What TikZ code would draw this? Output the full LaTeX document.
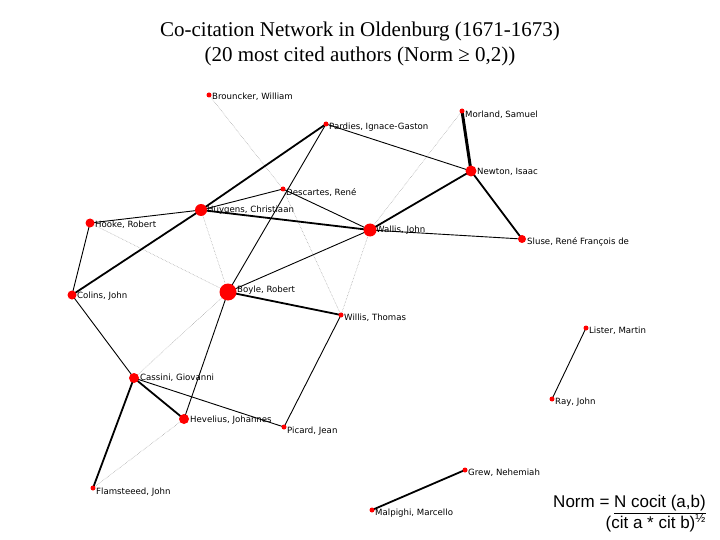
\documentclass[tikz,border=0pt]{standalone}
\usepackage{fontspec}
\setmainfont{Liberation Serif}
\newfontfamily\lab{DejaVu Sans}
\newfontfamily\ari{Liberation Sans}
\begin{document}
\begin{tikzpicture}[x=1pt,y=-1pt,
  dot/.style={circle,fill=red,inner sep=0pt,minimum size=#1},
  nm/.style={anchor=west,font=\lab\fontsize{8.6}{10}\selectfont,inner sep=1pt},
  thin1/.style={line width=0.9pt},
  thick1/.style={line width=1.8pt},
  thick2/.style={line width=3pt},
  dots/.style={line width=0.5pt,gray!80,densely dotted}]
\useasboundingbox (0,0) rectangle (720,540);
\node[font=\fontsize{21}{25}\selectfont,align=center] (title) at (360,44) {Co-citation Network in Oldenburg (1671-1673)\\(20 most cited authors (Norm ≥ 0,2))};
\coordinate (brou) at (209,95);
\coordinate (pard) at (326,124);
\coordinate (morl) at (462,111);
\coordinate (newt) at (471,171);
\coordinate (desc) at (283,189);
\coordinate (huyg) at (201,210);
\coordinate (hook) at (90,223);
\coordinate (wall) at (370,230);
\coordinate (slus) at (522,239);
\coordinate (coll) at (72,295);
\coordinate (boyl) at (228,292);
\coordinate (will) at (341,315);
\coordinate (list) at (586,328);
\coordinate (cass) at (134,378);
\coordinate (heve) at (184,419);
\coordinate (pica) at (284,427);
\coordinate (ray) at (552,399);
\coordinate (grew) at (465,470);
\coordinate (flam) at (93,488);
\coordinate (malp) at (372,510);
\node[nm] (lbrou) at (211,97) {Brouncker, William};
\node[nm] (lpard) at (328,127) {Pardies, Ignace-Gaston};
\node[nm] (lmorl) at (464,115) {Morland, Samuel};
\node[nm] (lnewt) at (476,172) {Newton, Isaac};
\node[nm] (ldesc) at (285,193) {Descartes, René};
\node[nm] (lhuyg) at (206,210) {Huygens, Christiaan};
\node[nm] (lhook) at (94,225) {Hooke, Robert};
\node[nm] (lwall) at (375,230) {Wallis, John};
\node[nm] (lslus) at (526,242) {Sluse, René François de};
\node[nm] (lcoll) at (76,296) {Colins, John};
\node[nm] (lboyl) at (236,290) {Boyle, Robert};
\node[nm] (lwill) at (343,318) {Willis, Thomas};
\node[nm] (llist) at (588,331) {Lister, Martin};
\node[nm] (lcass) at (139,378) {Cassini, Giovanni};
\node[nm] (lheve) at (189,420) {Hevelius, Johannes};
\node[nm] (lpica) at (286,431) {Picard, Jean};
\node[nm] (lray) at (554,402) {Ray, John};
\node[nm] (lgrew) at (467,473) {Grew, Nehemiah};
\node[nm] (lflam) at (95,492) {Flamsteeed, John};
\node[nm] (lmalp) at (374,513) {Malpighi, Marcello};
\draw[dots] (brou) -- (desc);
\draw[dots] (desc) -- (will);
\draw[dots] (huyg) -- (boyl);
\draw[dots] (hook) -- (boyl);
\draw[dots] (boyl) -- (cass);
\draw[dots] (wall) -- (morl);
\draw[dots] (wall) -- (will);
\draw[dots] (heve) -- (flam);
\draw[thick1] (pard) -- (huyg);
\draw[thin1] (pard) -- (boyl);
\draw[thin1] (pard) -- (newt);
\draw[thin1] (desc) -- (huyg);
\draw[thin1] (desc) -- (wall);
\draw[thin1] (huyg) -- (hook);
\draw[thick1] (huyg) -- (wall);
\draw[thick1] (huyg) -- (coll);
\draw[thin1] (hook) -- (coll);
\draw[thin1] (boyl) -- (wall);
\draw[thick1] (boyl) -- (will);
\draw[thin1] (boyl) -- (heve);
\draw[thick1] (wall) -- (newt);
\draw[thin1] (wall) -- (slus);
\draw[thick2] (morl) -- (newt);
\draw[thick1] (newt) -- (slus);
\draw[thin1] (coll) -- (cass);
\draw[thick1] (cass) -- (heve);
\draw[thin1] (cass) -- (pica);
\draw[thick1] (cass) -- (flam);
\draw[thin1] (will) -- (pica);
\draw[thin1] (list) -- (ray);
\draw[thick1] (grew) -- (malp);
\node[dot=5pt] (nbrou) at (brou) {};\node[dot=5pt] (npard) at (pard) {};\node[dot=5pt] (nmorl) at (morl) {};
\node[dot=11pt] (nnewt) at (newt) {};\node[dot=5pt] (ndesc) at (desc) {};\node[dot=12pt] (nhuyg) at (huyg) {};
\node[dot=9pt] (nhook) at (hook) {};\node[dot=13pt] (nwall) at (wall) {};\node[dot=8pt] (nslus) at (slus) {};
\node[dot=9pt] (ncoll) at (coll) {};\node[dot=17pt] (nboyl) at (boyl) {};\node[dot=5pt] (nwill) at (will) {};
\node[dot=5pt] (nlist) at (list) {};\node[dot=10pt] (ncass) at (cass) {};\node[dot=10pt] (nheve) at (heve) {};
\node[dot=5pt] (npica) at (pica) {};\node[dot=5pt] (nray) at (ray) {};\node[dot=5pt] (ngrew) at (grew) {};
\node[dot=5pt] (nflam) at (flam) {};\node[dot=5pt] (nmalp) at (malp) {};
\node[anchor=east,font=\ari\fontsize{17}{21}\selectfont,align=right,inner sep=0pt] (norm) at (706,514)
 {Norm = \underline{N cocit (a,b)}\\(cit a * cit b)\textsuperscript{½}};
\end{tikzpicture}
\end{document}
